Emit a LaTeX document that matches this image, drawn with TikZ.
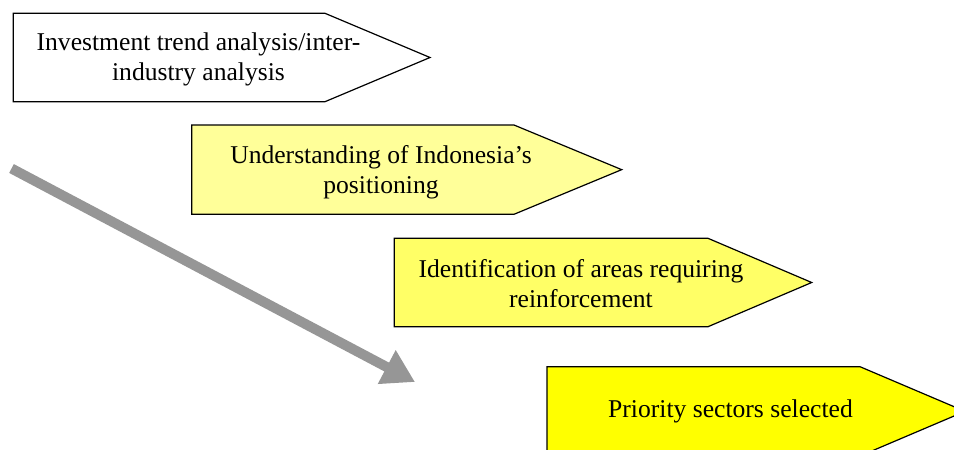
\documentclass[tikz,border=0pt]{standalone}
\usepackage{fontspec}
\setmainfont{Liberation Serif}
\usetikzlibrary{arrows.meta}
\definecolor{pale}{HTML}{FFFF99}
\definecolor{mid}{HTML}{FFFF66}
\definecolor{full}{HTML}{FFFF00}
\definecolor{flowgray}{HTML}{969696}
\tikzset{
  stage/.style={draw=black, line width=1.2pt, line join=miter},
  stagetext/.style={align=center, inner sep=0pt, font=\fontsize{25.6}{30}\selectfont},
  flow/.style={draw=flowgray, line width=10pt, -{Triangle[length=32pt,width=36pt]}}
}
\begin{document}
\begin{tikzpicture}[x=1pt,y=-1pt]
  \useasboundingbox (0,0) rectangle (954,450);
  \clip (0,0) rectangle (954,450);
  % stage pentagons: left, top, bottom, body end, tip
  \newcommand{\stageshape}[6]{%
    \path[stage, fill=#1] (#2,#3) -- (#5,#3) -- (#6,{(#3+#4)/2}) -- (#5,#4) -- (#2,#4) -- cycle;}
  \stageshape{white}{13.3}{13.3}{101.7}{325}{430}
  \stageshape{pale}{191.7}{125}{214.3}{514}{621.7}
  \stageshape{mid}{394.3}{238.3}{326.7}{708}{811.7}
  \stageshape{full}{547}{366.7}{456}{860}{965}
  \node[stagetext] (s1) at (198.5,59) {Investment trend analysis/inter-\\industry analysis};
  \node[stagetext] (s2) at (381,172) {Understanding of Indonesia’s\\positioning};
  \node[stagetext] (s3) at (581,284) {Identification of areas requiring\\reinforcement};
  \node[stagetext] (s4) at (730.5,411) {Priority sectors selected};
  % progression arrow
  \coordinate (f0) at (11.5,168.5);
  \coordinate (f1) at (415,382);
  \draw[flow] (f0) -- (f1);
\end{tikzpicture}
\end{document}
